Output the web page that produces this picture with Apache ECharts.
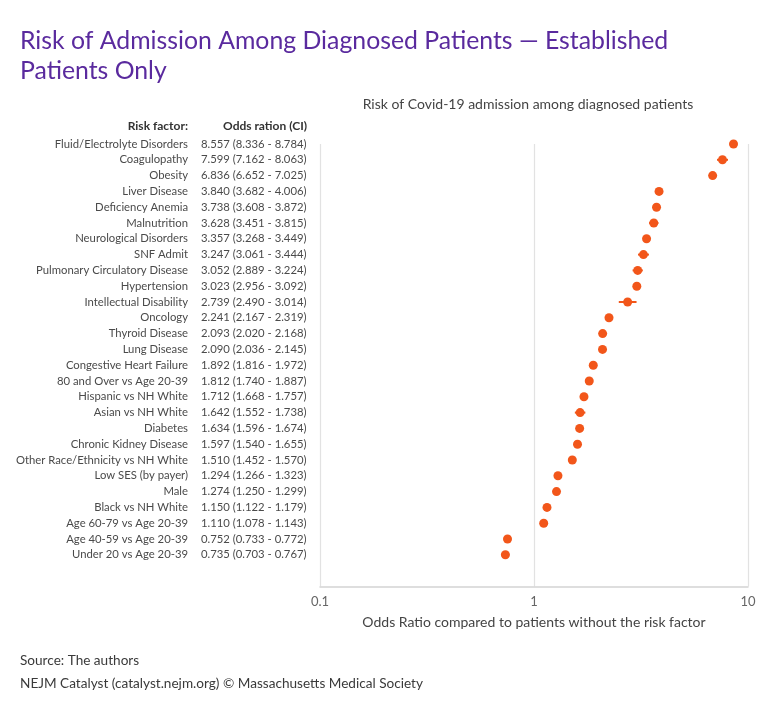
<!DOCTYPE html>
<html>
<head>
<meta charset="utf-8">
<script src="https://cdn.jsdelivr.net/npm/echarts@6/dist/echarts.min.js"></script>
<style>
  html, body { margin: 0; padding: 0; background: #fff; }
  #chart { width: 767px; height: 703px; }
</style>
</head>
<body>
<div id="chart"></div>
<script>
// risk factors, top to bottom
const factors = [
  'Fluid/Electrolyte Disorders', 'Coagulopathy', 'Obesity', 'Liver Disease',
  'Deficiency Anemia', 'Malnutrition', 'Neurological Disorders', 'SNF Admit',
  'Pulmonary Circulatory Disease', 'Hypertension', 'Intellectual Disability',
  'Oncology', 'Thyroid Disease', 'Lung Disease', 'Congestive Heart Failure',
  '80 and Over vs Age 20-39', 'Hispanic vs NH White', 'Asian vs NH White',
  'Diabetes', 'Chronic Kidney Disease', 'Other Race/Ethnicity vs NH White',
  'Low SES (by payer)', 'Male', 'Black vs NH White', 'Age 60-79 vs Age 20-39',
  'Age 40-59 vs Age 20-39', 'Under 20 vs Age 20-39'
]
const oddsRatio = [8.557, 7.599, 6.836, 3.840, 3.738, 3.628, 3.357, 3.247, 3.052, 3.023, 2.739,
  2.241, 2.093, 2.090, 1.892, 1.812, 1.712, 1.642, 1.634, 1.597, 1.510, 1.294, 1.274, 1.150,
  1.110, 0.752, 0.735]
const ciLow = [8.336, 7.162, 6.652, 3.682, 3.608, 3.451, 3.268, 3.061, 2.889, 2.956, 2.490,
  2.167, 2.020, 2.036, 1.816, 1.740, 1.668, 1.552, 1.596, 1.540, 1.452, 1.266, 1.250, 1.122,
  1.078, 0.733, 0.703]
const ciHigh = [8.784, 8.063, 7.025, 4.006, 3.872, 3.815, 3.449, 3.444, 3.224, 3.092, 3.014,
  2.319, 2.168, 2.145, 1.972, 1.887, 1.757, 1.738, 1.674, 1.655, 1.570, 1.323, 1.299, 1.179,
  1.143, 0.772, 0.767]
const xTicks = [0.1, 1, 10]

const FONT = 'Lato'
const orange = '#f2561a'

const orLabel = i => `${oddsRatio[i].toFixed(3)} (${ciLow[i].toFixed(3)} - ${ciHigh[i].toFixed(3)})`
const rowMax = factors.length + 1

const chart = echarts.init(document.getElementById('chart'))

const yBase = {
  type: 'value',
  min: 0,
  max: rowMax,
  interval: 1,
  inverse: true,
  position: 'left',
  axisTick: { show: false },
  splitLine: { show: false }
}

const option = {
  backgroundColor: '#fff',
  textStyle: { fontFamily: FONT },
  title: [
    {
      text: 'Risk of Admission Among Diagnosed Patients \u2014 Established\nPatients Only',
      left: 20,
      top: 26,
      padding: 0,
      textStyle: { color: '#5a2a9e', fontSize: 24.8, fontWeight: 'normal', lineHeight: 30, fontFamily: FONT }
    },
    {
      text: 'Risk of Covid-19 admission among diagnosed patients',
      left: 528,
      top: 97,
      padding: 0,
      textAlign: 'center',
      textStyle: { color: '#444', fontSize: 14, fontWeight: 'normal', fontFamily: FONT }
    },
    {
      text: 'Risk factor:',
      left: 188,
      top: 120,
      padding: 0,
      textAlign: 'right',
      textStyle: { color: '#333', fontSize: 12, fontWeight: 'bold', fontFamily: FONT }
    },
    {
      text: 'Odds ration (CI)',
      left: 307,
      top: 120,
      padding: 0,
      textAlign: 'right',
      textStyle: { color: '#333', fontSize: 12, fontWeight: 'bold', fontFamily: FONT }
    },
    {
      text: 'Source: The authors\nNEJM Catalyst (catalyst.nejm.org) \u00a9 Massachusetts Medical Society',
      left: 20,
      top: 649,
      padding: 0,
      textStyle: { color: '#3a3a3a', fontSize: 13.6, fontWeight: 'normal', lineHeight: 23, fontFamily: FONT }
    }
  ],
  grid: { left: 320, right: 19, top: 144, height: 442.4 },
  xAxis: {
    type: 'log',
    logBase: 10,
    min: xTicks[0],
    max: xTicks[xTicks.length - 1],
    axisLine: { onZero: false, lineStyle: { color: '#d4d4d4', width: 1.5 } },
    axisTick: { show: false },
    axisLabel: { color: '#666', fontSize: 13, margin: 9, fontFamily: FONT },
    splitLine: { show: true, lineStyle: { color: '#e2e2e2', width: 1.2 } },
    name: 'Odds Ratio compared to patients without the risk factor',
    nameLocation: 'middle',
    nameGap: 29,
    nameTextStyle: { color: '#444', fontSize: 14, fontFamily: FONT }
  },
  yAxis: [
    Object.assign({}, yBase, {
      axisLine: { show: false },
      axisLabel: {
        margin: 132,
        color: '#4a4a4a',
        fontSize: 11.3,
        fontFamily: FONT,
        formatter: v => (v < factors.length ? factors[v] : '')
      }
    }),
    Object.assign({}, yBase, {
      axisLine: { show: false },
      axisLabel: {
        margin: 119,
        align: 'left',
        color: '#4a4a4a',
        fontSize: 11.3,
        fontFamily: FONT,
        formatter: v => (v < factors.length ? orLabel(v) : '')
      }
    })
  ],
  series: [
    {
      type: 'custom',
      yAxisIndex: 0,
      data: factors.map((f, i) => [ciLow[i], ciHigh[i], i]),
      renderItem: (params, api) => {
        const p1 = api.coord([api.value(0), api.value(2)])
        const p2 = api.coord([api.value(1), api.value(2)])
        return {
          type: 'line',
          shape: { x1: p1[0], y1: p1[1], x2: p2[0], y2: p2[1] },
          style: { stroke: orange, lineWidth: 2 }
        }
      },
      encode: { x: [0, 1], y: 2 },
      silent: true,
      z: 2
    },
    {
      type: 'scatter',
      yAxisIndex: 0,
      symbolSize: 9,
      itemStyle: { color: orange, opacity: 1 },
      data: factors.map((f, i) => [oddsRatio[i], i]),
      z: 3
    }
  ]
}

chart.setOption(option)
</script>
</body>
</html>
